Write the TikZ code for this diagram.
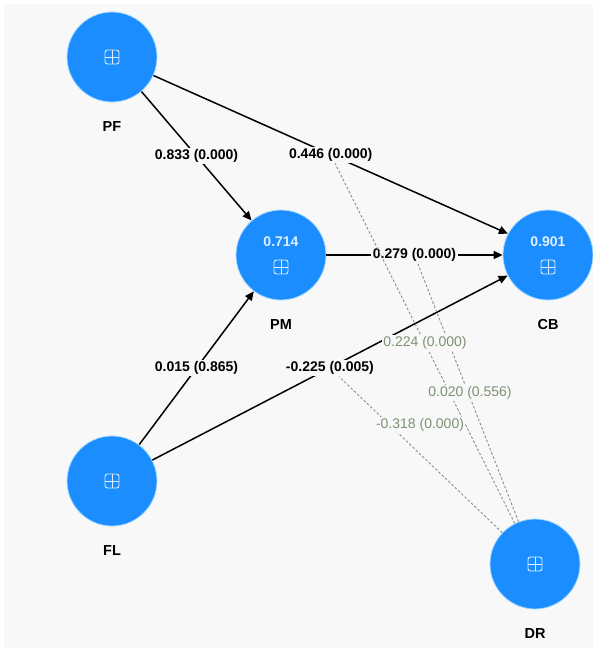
\documentclass[tikz,border=0pt]{standalone}
\usepackage{fontspec}
\setmainfont{Liberation Sans}
\usetikzlibrary{arrows.meta,calc}
\definecolor{canvas}{RGB}{248,248,248}
\definecolor{lvblue}{RGB}{28,141,255}
\definecolor{lvhalo}{RGB}{165,218,255}
\definecolor{lvtext}{RGB}{222,239,255}
\definecolor{modgreen}{RGB}{125,146,116}
\definecolor{modgray}{RGB}{140,140,140}

\begin{document}
\begin{tikzpicture}[x=1pt,y=-1pt,
  latent/.style={circle,fill=lvblue,draw=lvhalo,line width=0.8pt,minimum size=90pt,inner sep=0pt},
  lvname/.style={font=\bfseries\fontsize{14.5}{16}\selectfont},
  rsq/.style={text=lvtext,font=\bfseries\fontsize{14}{16}\selectfont},
  icon/.style={draw=lvtext,line width=0.9pt,rounded corners=2.5pt},
  effect/.style={-{Triangle[length=9pt,width=8pt]},line width=1.5pt},
  coef/.style={fill=canvas,inner sep=1.5pt,font=\bfseries\fontsize{14}{16}\selectfont},
  modline/.style={modgray,line width=0.9pt,dash pattern=on 2.5pt off 2pt},
  modcoef/.style={fill=canvas,inner sep=1.5pt,text=modgreen,font=\fontsize{14}{16}\selectfont}]
\useasboundingbox (0,0) rectangle (593,648);
\fill[white] (0,0) rectangle (593,648);
\fill[canvas] (4,4) rectangle (593,648);

% latent variables
\node[latent] (PF) at (112,57) {};
\node[latent] (PM) at (281,255) {};
\node[latent] (CB) at (548,255) {};
\node[latent] (FL) at (112,481) {};
\node[latent] (DR) at (535,564) {};
\foreach \n in {PF,PM,CB,FL,DR} {\node[lvname] (\n name) at ($(\n)+(0,70)$) {\n};}
\node[rsq] (PMr) at ($(PM)+(0,-13)$) {0.714};
\node[rsq] (CBr) at ($(CB)+(0,-13)$) {0.901};
% block icons
\foreach \n/\dy in {PF/0,FL/0,DR/0,PM/12,CB/12} {
  \draw[icon] ($(\n)+(-7,\dy-7)$) rectangle ++(14,14);
  \draw[icon] ($(\n)+(-7,\dy)$) -- ++(14,0);
  \draw[icon] ($(\n)+(0,\dy-7)$) -- ++(0,14);
}

% structural paths
\draw[effect] (PF) -- node[coef] (pfpm) {0.833 (0.000)} (PM);
\draw[effect] (PF) -- node[coef] (pfcb) {0.446 (0.000)} (CB.152);
\draw[effect] (PM) -- node[coef] (pmcb) {0.279 (0.000)} (CB);
\draw[effect] (FL) -- node[coef] (flpm) {0.015 (0.865)} (PM);
\draw[effect] (FL) -- node[coef] (flcb) {-0.225 (0.005)} (CB.207);

% moderating effects of DR
\draw[modline] (DR) -- (pfcb);
\draw[modline] (DR) -- (pmcb);
\draw[modline] (DR) -- (flcb);
\node[modcoef] (mpf) at (425,343) {0.224 (0.000)};
\node[modcoef] (mpm) at (470,393) {0.020 (0.556)};
\node[modcoef] (mfl) at (420,425) {-0.318 (0.000)};
\end{tikzpicture}
\end{document}
